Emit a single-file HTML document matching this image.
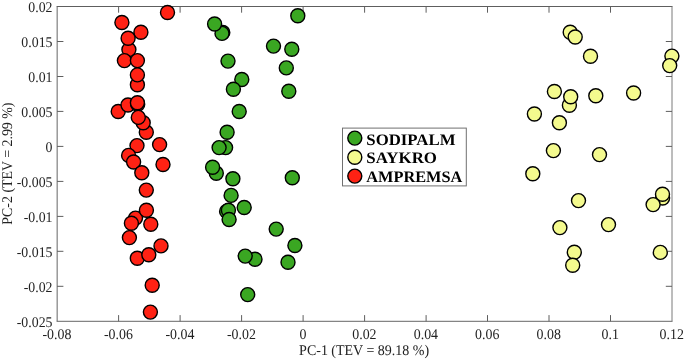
<!DOCTYPE html>
<html><head><meta charset="utf-8"><title>PCA score plot</title>
<style>
html,body{margin:0;padding:0;background:#fff;}
svg{display:block;will-change:transform;}
text{font-family:"Liberation Serif",serif;fill:#222;text-rendering:geometricPrecision;}
.t{font-size:14.8px;}
.l{font-size:14.8px;}
.lg{font-size:16px;font-weight:bold;fill:#000;}
.ax{stroke:#5e5e5e;stroke-width:1;fill:none;}
.m{stroke:#000;stroke-width:1.4;}
</style></head>
<body>
<svg width="685" height="359" viewBox="0 0 685 359">
<rect x="0" y="0" width="685" height="359" fill="#fff"/>
<path class="ax" d="M56.65 6.5H672.5"/>
<path class="ax" style="stroke:#666" d="M56.65 321.3H672.5"/>
<path class="ax" style="stroke:#666" d="M57.15 6.5V321.3"/>
<path class="ax" style="stroke:#7a7a7a" d="M672.00 6.5V321.3"/>
<text class="t" transform="translate(56.9 339.0) scale(.94 1)" text-anchor="middle">-0.08</text>
<path class="ax" d="M118.6 321.3V315.1M118.6 6.5V12.7"/>
<text class="t" transform="translate(118.4 339.0) scale(.94 1)" text-anchor="middle">-0.06</text>
<path class="ax" d="M180.1 321.3V315.1M180.1 6.5V12.7"/>
<text class="t" transform="translate(179.9 339.0) scale(.94 1)" text-anchor="middle">-0.04</text>
<path class="ax" d="M241.6 321.3V315.1M241.6 6.5V12.7"/>
<text class="t" transform="translate(241.4 339.0) scale(.94 1)" text-anchor="middle">-0.02</text>
<path class="ax" d="M303.1 321.3V315.1M303.1 6.5V12.7"/>
<text class="t" transform="translate(302.9 339.0) scale(.94 1)" text-anchor="middle">0</text>
<path class="ax" d="M364.6 321.3V315.1M364.6 6.5V12.7"/>
<text class="t" transform="translate(364.4 339.0) scale(.94 1)" text-anchor="middle">0.02</text>
<path class="ax" d="M426.1 321.3V315.1M426.1 6.5V12.7"/>
<text class="t" transform="translate(425.9 339.0) scale(.94 1)" text-anchor="middle">0.04</text>
<path class="ax" d="M487.5 321.3V315.1M487.5 6.5V12.7"/>
<text class="t" transform="translate(487.3 339.0) scale(.94 1)" text-anchor="middle">0.06</text>
<path class="ax" d="M549.0 321.3V315.1M549.0 6.5V12.7"/>
<text class="t" transform="translate(548.8 339.0) scale(.94 1)" text-anchor="middle">0.08</text>
<path class="ax" d="M610.5 321.3V315.1M610.5 6.5V12.7"/>
<text class="t" transform="translate(610.3 339.0) scale(.94 1)" text-anchor="middle">0.1</text>
<text class="t" transform="translate(671.8 339.0) scale(.94 1)" text-anchor="middle">0.12</text>
<text class="t" transform="translate(52.5 12.3) scale(.935 1)" text-anchor="end">0.02</text>
<path class="ax" d="M57.1 41.5H63.4M672.0 41.5H665.8"/>
<text class="t" transform="translate(52.5 47.2) scale(.935 1)" text-anchor="end">0.015</text>
<path class="ax" d="M57.1 76.5H63.4M672.0 76.5H665.8"/>
<text class="t" transform="translate(52.5 82.1) scale(.935 1)" text-anchor="end">0.01</text>
<path class="ax" d="M57.1 111.4H63.4M672.0 111.4H665.8"/>
<text class="t" transform="translate(52.5 117.0) scale(.935 1)" text-anchor="end">0.005</text>
<path class="ax" d="M57.1 146.4H63.4M672.0 146.4H665.8"/>
<text class="t" transform="translate(52.5 151.9) scale(.935 1)" text-anchor="end">0</text>
<path class="ax" d="M57.1 181.4H63.4M672.0 181.4H665.8"/>
<text class="t" transform="translate(52.5 186.8) scale(.935 1)" text-anchor="end">-0.005</text>
<path class="ax" d="M57.1 216.4H63.4M672.0 216.4H665.8"/>
<text class="t" transform="translate(52.5 221.8) scale(.935 1)" text-anchor="end">-0.01</text>
<path class="ax" d="M57.1 251.3H63.4M672.0 251.3H665.8"/>
<text class="t" transform="translate(52.5 256.7) scale(.935 1)" text-anchor="end">-0.015</text>
<path class="ax" d="M57.1 286.3H63.4M672.0 286.3H665.8"/>
<text class="t" transform="translate(52.5 291.6) scale(.935 1)" text-anchor="end">-0.02</text>
<text class="t" transform="translate(52.5 326.5) scale(.935 1)" text-anchor="end">-0.025</text>
<text class="l" transform="translate(364.1 355) scale(.945 1)" text-anchor="middle">PC-1 (TEV = 89.18 %)</text>
<text class="l" transform="translate(12.3 163.6) rotate(-90) scale(.938 1)" text-anchor="middle">PC-2 (TEV = 2.99 %)</text>
<g fill="#3aa722">
<circle class="m" cx="297.8" cy="15.7" r="7.0"/>
<circle class="m" cx="222.8" cy="32.5" r="7.0"/>
<circle class="m" cx="222.0" cy="33.4" r="7.0"/>
<circle class="m" cx="214.6" cy="24.0" r="7.0"/>
<circle class="m" cx="273.5" cy="46.1" r="7.0"/>
<circle class="m" cx="291.8" cy="49.3" r="7.0"/>
<circle class="m" cx="228.0" cy="61.1" r="7.0"/>
<circle class="m" cx="286.3" cy="67.9" r="7.0"/>
<circle class="m" cx="241.8" cy="79.5" r="7.0"/>
<circle class="m" cx="233.4" cy="89.3" r="7.0"/>
<circle class="m" cx="288.8" cy="91.2" r="7.0"/>
<circle class="m" cx="239.2" cy="111.5" r="7.0"/>
<circle class="m" cx="227.1" cy="132.2" r="7.0"/>
<circle class="m" cx="225.6" cy="147.6" r="7.0"/>
<circle class="m" cx="219.1" cy="147.6" r="7.0"/>
<circle class="m" cx="216.3" cy="173.2" r="7.0"/>
<circle class="m" cx="212.6" cy="167.3" r="7.0"/>
<circle class="m" cx="232.9" cy="178.8" r="7.0"/>
<circle class="m" cx="292.3" cy="177.7" r="7.0"/>
<circle class="m" cx="231.1" cy="195.4" r="7.0"/>
<circle class="m" cx="244.2" cy="207.5" r="7.0"/>
<circle class="m" cx="226.6" cy="211.4" r="7.0"/>
<circle class="m" cx="228.4" cy="210.2" r="7.0"/>
<circle class="m" cx="229.1" cy="219.5" r="7.0"/>
<circle class="m" cx="276.2" cy="229.1" r="7.0"/>
<circle class="m" cx="294.9" cy="245.5" r="7.0"/>
<circle class="m" cx="255.0" cy="259.3" r="7.0"/>
<circle class="m" cx="245.2" cy="256.1" r="7.0"/>
<circle class="m" cx="288.0" cy="262.3" r="7.0"/>
<circle class="m" cx="247.7" cy="294.6" r="7.0"/>
</g>
<g fill="#f4fa8e">
<circle class="m" cx="570.2" cy="32.3" r="7.0"/>
<circle class="m" cx="575.2" cy="37.0" r="7.0"/>
<circle class="m" cx="590.5" cy="56.3" r="7.0"/>
<circle class="m" cx="671.9" cy="56.1" r="7.0"/>
<circle class="m" cx="669.7" cy="65.6" r="7.0"/>
<circle class="m" cx="554.4" cy="91.5" r="7.0"/>
<circle class="m" cx="569.4" cy="105.3" r="7.0"/>
<circle class="m" cx="570.7" cy="96.7" r="7.0"/>
<circle class="m" cx="595.8" cy="95.7" r="7.0"/>
<circle class="m" cx="633.6" cy="93.0" r="7.0"/>
<circle class="m" cx="534.4" cy="114.0" r="7.0"/>
<circle class="m" cx="559.4" cy="122.8" r="7.0"/>
<circle class="m" cx="553.4" cy="150.6" r="7.0"/>
<circle class="m" cx="599.5" cy="154.6" r="7.0"/>
<circle class="m" cx="532.8" cy="173.7" r="7.0"/>
<circle class="m" cx="578.5" cy="200.6" r="7.0"/>
<circle class="m" cx="662.6" cy="198.0" r="7.0"/>
<circle class="m" cx="653.1" cy="204.6" r="7.0"/>
<circle class="m" cx="662.5" cy="194.3" r="7.0"/>
<circle class="m" cx="559.9" cy="227.6" r="7.0"/>
<circle class="m" cx="608.5" cy="224.6" r="7.0"/>
<circle class="m" cx="574.3" cy="252.2" r="7.0"/>
<circle class="m" cx="572.7" cy="265.3" r="7.0"/>
<circle class="m" cx="660.3" cy="252.4" r="7.0"/>
</g>
<g fill="#ff2214">
<circle class="m" cx="167.5" cy="12.5" r="7.0"/>
<circle class="m" cx="121.9" cy="22.5" r="7.0"/>
<circle class="m" cx="140.9" cy="32.3" r="7.0"/>
<circle class="m" cx="128.9" cy="49.6" r="7.0"/>
<circle class="m" cx="128.1" cy="38.3" r="7.0"/>
<circle class="m" cx="124.4" cy="60.6" r="7.0"/>
<circle class="m" cx="137.4" cy="60.6" r="7.0"/>
<circle class="m" cx="137.4" cy="84.8" r="7.0"/>
<circle class="m" cx="137.4" cy="74.9" r="7.0"/>
<circle class="m" cx="118.2" cy="111.5" r="7.0"/>
<circle class="m" cx="128.0" cy="105.0" r="7.0"/>
<circle class="m" cx="137.7" cy="104.3" r="7.0"/>
<circle class="m" cx="137.4" cy="102.7" r="7.0"/>
<circle class="m" cx="146.3" cy="132.3" r="7.0"/>
<circle class="m" cx="143.2" cy="122.8" r="7.0"/>
<circle class="m" cx="138.3" cy="117.4" r="7.0"/>
<circle class="m" cx="137.0" cy="145.6" r="7.0"/>
<circle class="m" cx="159.6" cy="144.6" r="7.0"/>
<circle class="m" cx="128.6" cy="155.4" r="7.0"/>
<circle class="m" cx="133.6" cy="162.0" r="7.0"/>
<circle class="m" cx="163.0" cy="164.5" r="7.0"/>
<circle class="m" cx="141.8" cy="172.8" r="7.0"/>
<circle class="m" cx="146.3" cy="190.1" r="7.0"/>
<circle class="m" cx="135.5" cy="218.1" r="7.0"/>
<circle class="m" cx="146.4" cy="210.2" r="7.0"/>
<circle class="m" cx="131.4" cy="223.2" r="7.0"/>
<circle class="m" cx="150.8" cy="224.3" r="7.0"/>
<circle class="m" cx="129.4" cy="237.6" r="7.0"/>
<circle class="m" cx="161.0" cy="245.9" r="7.0"/>
<circle class="m" cx="137.3" cy="258.3" r="7.0"/>
<circle class="m" cx="148.8" cy="254.7" r="7.0"/>
<circle class="m" cx="152.2" cy="285.3" r="7.0"/>
<circle class="m" cx="150.4" cy="312.1" r="7.0"/>
</g>
<rect x="342.5" y="128.1" width="123.8" height="57.8" fill="#fff" stroke="#707070" stroke-width="1"/>
<circle class="m" cx="354.8" cy="138.1" r="7.0" fill="#3aa722"/>
<text class="lg" x="366.3" y="144.5" textLength="89.2" lengthAdjust="spacingAndGlyphs">SODIPALM</text>
<circle class="m" cx="354.8" cy="157.3" r="7.0" fill="#f4fa8e"/>
<text class="lg" x="366.3" y="163.0" textLength="70.7" lengthAdjust="spacingAndGlyphs">SAYKRO</text>
<circle class="m" cx="354.8" cy="176.1" r="7.0" fill="#ff2214"/>
<text class="lg" x="366.3" y="181.6" textLength="96.0" lengthAdjust="spacingAndGlyphs">AMPREMSA</text>
</svg>
</body></html>
